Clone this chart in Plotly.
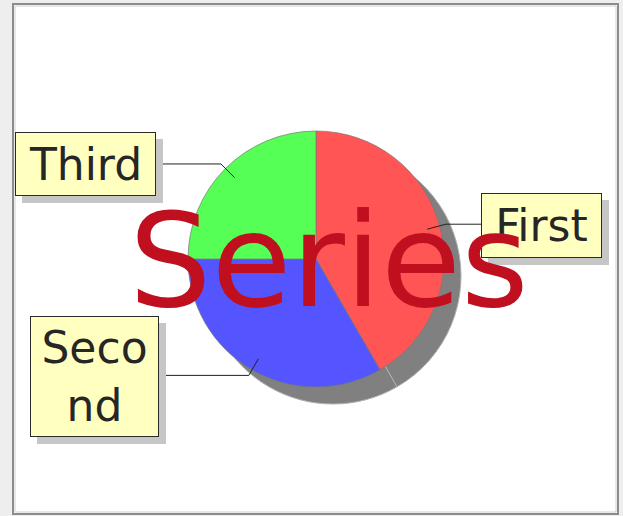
import math
import plotly.graph_objects as go

# ---- data ----
labels = ["First", "Second", "Third"]
values = [5, 4, 3]
label_text = ["First", "Seco<br>nd", "Third"]
colors = ["#ff5555", "#5555ff", "#55ff55"]
title_text = "Series"

# ---- layout constants (pixels) ----
W, H = 623, 516
CX, CY, R = 316, 259, 128
SHADOW = 17
# label boxes: center x, center y, width, height, side the leader attaches to
boxes = {
    "First": (541.5, 225.5, 121, 65, "left"),
    "Second": (94.5, 376.5, 129, 121, "right"),
    "Third": (85.5, 164, 141, 64, "right"),
}


def px(x):
    return x / W


def py(y):
    return 1 - y / H


fig = go.Figure()

# shadow pie (same data, gray)
fig.add_trace(go.Pie(
    labels=labels, values=values, sort=False, direction="clockwise", rotation=0,
    marker=dict(colors=["#808080"] * len(values), line=dict(color="#b0b0b0", width=1)),
    textinfo="none", hoverinfo="skip", showlegend=False,
    domain=dict(x=[px(CX - R + SHADOW), px(CX + R + SHADOW)],
                y=[py(CY + R + SHADOW), py(CY - R + SHADOW)]),
))
# main pie
fig.add_trace(go.Pie(
    labels=labels, values=values, sort=False, direction="clockwise", rotation=0,
    marker=dict(colors=colors, line=dict(color="rgba(120,120,120,0.7)", width=1)),
    textinfo="none", hoverinfo="skip", showlegend=False,
    domain=dict(x=[px(CX - R), px(CX + R)], y=[py(CY + R), py(CY - R)]),
))

shapes = [
    dict(type="rect", xref="paper", yref="paper", x0=px(13), x1=px(618), y0=py(514), y1=py(4),
         fillcolor="white", line=dict(color="#8c8c8c", width=2), layer="below"),
    dict(type="rect", xref="paper", yref="paper", x0=px(15), x1=px(616), y0=py(512), y1=py(6),
         fillcolor="rgba(0,0,0,0)", line=dict(color="#d0d0d0", width=1), layer="below"),
]

# leader lines computed from slice mid-angles
total = sum(values)
cum = 0
for lab, v in zip(labels, values):
    mid = (cum + v / 2) / total * 2 * math.pi
    cum += v
    sx, sy = math.sin(mid), -math.cos(mid)
    x0, y0 = CX + 0.9 * R * sx, CY + 0.9 * R * sy
    x1, y1 = CX + 1.05 * R * sx, CY + 1.05 * R * sy
    bx, by, bw, bh, side = boxes[lab]
    xe = bx - bw / 2 if side == "left" else bx + bw / 2
    path = f"M {px(x0)},{py(y0)} L {px(x1)},{py(y1)} L {px(xe)},{py(y1)}"
    shapes.append(dict(type="path", xref="paper", yref="paper", path=path,
                       line=dict(color="#222222", width=1), layer="above"))

# box shadows
for lab in labels:
    bx, by, bw, bh, side = boxes[lab]
    shapes.append(dict(type="rect", xref="paper", yref="paper",
                       x0=px(bx - bw / 2 + 7), x1=px(bx + bw / 2 + 7),
                       y0=py(by + bh / 2 + 7), y1=py(by - bh / 2 + 7),
                       fillcolor="#c6c6c6", line=dict(width=0), layer="above"))

annotations = []
for lab, txt in zip(labels, label_text):
    bx, by, bw, bh, side = boxes[lab]
    annotations.append(dict(
        x=px(bx), y=py(by), xref="paper", yref="paper", xanchor="center", yanchor="middle",
        text=txt, showarrow=False, width=bw - 2, height=bh - 2, align="center", valign="middle",
        bgcolor="#ffffc0", bordercolor="#2a2a2a", borderwidth=1, borderpad=0,
        font=dict(family="DejaVu Sans", size=44, color="#262626"),
    ))

annotations.append(dict(
    x=px(329), y=py(261), xref="paper", yref="paper", xanchor="center", yanchor="middle",
    text=title_text, showarrow=False,
    font=dict(family="DejaVu Sans", size=130, color="#c0101f"),
))

fig.update_layout(
    width=W, height=H, autosize=False,
    margin=dict(l=0, r=0, t=0, b=0),
    paper_bgcolor="#eeeeee", plot_bgcolor="#eeeeee",
    shapes=shapes, annotations=annotations, showlegend=False,
)

fig.write_html("out.html", config={"displayModeBar": False},
               post_script="document.body.style.margin='0';")
